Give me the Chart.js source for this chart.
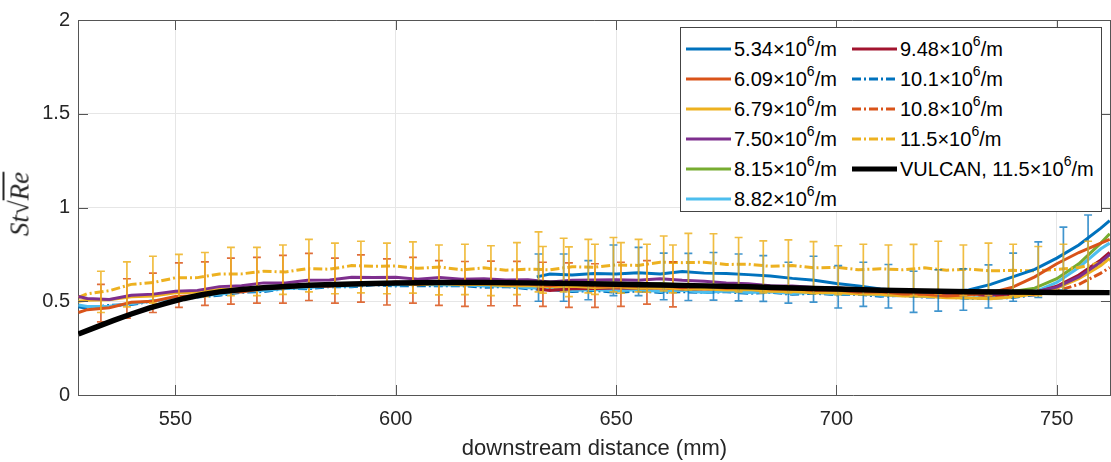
<!DOCTYPE html>
<html>
<head>
<meta charset="utf-8">
<script src="https://cdn.jsdelivr.net/npm/chart.js@4.4.0/dist/chart.umd.min.js"></script>
<style>
body { margin: 0; background: #fff; }
#wrap { position: relative; width: 1111px; height: 462px; }
#legend { position: absolute; left: 680px; top: 27px; width: 422px; height: 185px; box-sizing: border-box;
  border: 1px solid #444; background: #fff; font-family: "Liberation Sans", Arial, sans-serif; font-size: 20px; color: #000; }
.item { position: absolute; height: 24px; line-height: 24px; white-space: nowrap; }
.item svg { position: absolute; left: 0; top: 9px; }
.item span.t { position: absolute; left: 48px; top: 0; }
.item sup { font-size: 14px; position: relative; top: -3px; vertical-align: top; line-height: 14px; }
#ytitle { position: absolute; left: 20px; top: 204px; transform: translate(-50%, -50%) rotate(-90deg);
  font-family: "Liberation Serif", serif; font-style: italic; font-size: 27px; color: #262626; white-space: nowrap; }
#ytitle .ov { text-decoration: overline; }
</style>
</head>
<body>
<div id="wrap">
  <canvas id="chart" width="1111" height="462"></canvas>
  <div id="ytitle">St√<span class="ov">Re</span></div>
  <div id="legend"></div>
</div>
<script>
// GRID OF POSITIONS (mm)
const x_full = [528,530,535,540,545,550,555,560,565,570,
  575,580,585,590,595,600,605,610,615,620,
  625,630,635,640,645,650,655,660,665,670,
  675,680,685,690,695,700,705,710,715,720,
  725,730,735,740,745,750,755,760,762];
const x_right = [632,635,640,645,650,655,660,665,670,675,
  680,685,690,695,700,705,710,715,720,725,
  730,735,740,745,750,755,760,762];
const x_vulcan = [528,532,536,540,544,548,552,556,560,565,570,575,580,590,600,610,620,630,640,650,660,670,680,690,700,710,720,730,740,750,762];

// SERIES VALUES
const st_534 = [0.63,0.645,0.64,0.648,0.645,0.652,0.645,0.658,0.65,0.648,
  0.642,0.635,0.622,0.612,0.595,0.582,0.565,0.558,0.55,0.554,
  0.56,0.59,0.63,0.67,0.73,0.8,0.89,0.93];
const st_609 = [0.44,0.455,0.465,0.495,0.5,0.525,0.53,0.552,0.55,0.568,
  0.572,0.583,0.58,0.593,0.59,0.602,0.592,0.6,0.593,0.602,
  0.592,0.592,0.583,0.592,0.582,0.583,0.58,0.584,0.572,0.58,
  0.57,0.576,0.566,0.567,0.558,0.56,0.548,0.55,0.538,0.537,
  0.528,0.535,0.545,0.575,0.63,0.7,0.76,0.81,0.83];
const st_679 = [0.5,0.505,0.508,0.524,0.528,0.545,0.548,0.563,0.567,0.578,
  0.578,0.588,0.587,0.593,0.59,0.597,0.588,0.594,0.588,0.59,
  0.583,0.584,0.578,0.58,0.573,0.577,0.57,0.572,0.566,0.567,
  0.56,0.562,0.553,0.552,0.546,0.547,0.538,0.537,0.528,0.527,
  0.518,0.517,0.513,0.522,0.54,0.57,0.62,0.69,0.73];
const st_750 = [0.525,0.515,0.51,0.532,0.538,0.553,0.558,0.578,0.583,0.598,
  0.598,0.612,0.613,0.628,0.627,0.628,0.618,0.627,0.618,0.62,
  0.613,0.614,0.603,0.612,0.613,0.615,0.612,0.62,0.612,0.607,
  0.598,0.594,0.583,0.582,0.573,0.572,0.563,0.562,0.553,0.552,
  0.543,0.542,0.538,0.547,0.55,0.575,0.63,0.71,0.75];
const st_815 = [0.6,0.594,0.602,0.596,0.597,0.588,0.594,0.586,0.587,0.58,
  0.582,0.576,0.577,0.568,0.57,0.563,0.562,0.556,0.557,0.548,
  0.55,0.546,0.552,0.57,0.62,0.7,0.81,0.86];
const st_882 = [0.48,0.472,0.473,0.487,0.503,0.512,0.528,0.537,0.553,0.557,
  0.568,0.572,0.583,0.582,0.593,0.587,0.591,0.587,0.588,0.582,
  0.583,0.572,0.568,0.557,0.563,0.555,0.563,0.552,0.558,0.547,
  0.555,0.547,0.551,0.542,0.548,0.537,0.543,0.532,0.533,0.525,
  0.528,0.517,0.522,0.53,0.55,0.6,0.68,0.78,0.81];
const st_948 = [0.565,0.558,0.567,0.568,0.57,0.57,0.572,0.566,0.567,0.564,
  0.564,0.558,0.56,0.553,0.554,0.548,0.55,0.543,0.544,0.538,
  0.54,0.534,0.538,0.545,0.58,0.64,0.72,0.76];
const st_101 = [0.47,0.462,0.478,0.482,0.503,0.507,0.523,0.532,0.548,0.552,
  0.568,0.567,0.578,0.577,0.588,0.582,0.583,0.582,0.583,0.575,
  0.578,0.567,0.563,0.552,0.558,0.547,0.555,0.547,0.551,0.547,
  0.551,0.542,0.548,0.537,0.543,0.535,0.538,0.527,0.531,0.522,
  0.523,0.515,0.517,0.52,0.535,0.57,0.63,0.71,0.75];
const st_108 = [0.58,0.573,0.58,0.573,0.574,0.573,0.572,0.57,0.57,0.563,
  0.567,0.558,0.56,0.553,0.554,0.546,0.547,0.54,0.542,0.534,
  0.536,0.53,0.534,0.535,0.555,0.59,0.65,0.68];
const st_115 = [0.52,0.54,0.556,0.59,0.6,0.625,0.626,0.645,0.646,0.66,
  0.656,0.674,0.671,0.69,0.686,0.688,0.676,0.682,0.668,0.678,
  0.666,0.671,0.668,0.684,0.681,0.694,0.691,0.708,0.706,0.708,
  0.696,0.698,0.686,0.691,0.678,0.681,0.668,0.673,0.668,0.678,
  0.666,0.671,0.662,0.665,0.662,0.67,0.68,0.705,0.72];
const st_vulcan = [0.325,0.362,0.398,0.432,0.463,0.49,0.515,0.535,0.55,0.563,0.572,0.579,0.585,0.592,0.597,0.6,0.6,0.598,0.595,0.591,0.587,0.582,0.577,0.571,0.565,0.559,0.555,0.551,0.549,0.547,0.546];

// ERROR BARS
const err_left_x = [533.1,539.0,544.9,550.8,556.7,562.6,568.5,574.4,580.3,586.2,592.1,598.0,603.9,609.8,615.7,621.6,627.5,633.4,639.3,645.2,651.1,657.0,662.9];
const err_left_yellow_hi = [0.66,0.71,0.74,0.75,0.76,0.787,0.787,0.80,0.83,0.81,0.82,0.81,0.817,0.80,0.804,0.796,0.813,0.792,0.79,0.804,0.813,0.804,0.80];
const err_left_yellow_lo = [0.44,0.47,0.49,0.51,0.525,0.53,0.53,0.537,0.55,0.54,0.545,0.54,0.543,0.534,0.535,0.53,0.535,0.543,0.525,0.537,0.543,0.548,0.545];
const err_left_orange_hi = [0.59,0.62,0.65,0.705,0.71,0.73,0.734,0.745,0.755,0.73,0.747,0.726,0.734,0.717,0.712,0.714,0.713,0.708,0.705,0.70,0.708,0.717,0.71];
const err_left_orange_lo = [0.39,0.41,0.44,0.467,0.478,0.485,0.49,0.49,0.504,0.49,0.495,0.48,0.49,0.478,0.473,0.476,0.476,0.473,0.467,0.467,0.473,0.485,0.47];
const err_right_x = [632.4,638.1,643.7,649.4,655.1,660.8,666.4,672.1,677.8,683.4,689.1,694.8,700.4,706.1,711.8,717.5,723.1,728.8,734.5,740.1,745.8,751.5,757.1];
const err_right_blue_hi = [0.752,0.752,0.717,0.80,0.787,0.757,0.755,0.76,0.752,0.743,0.708,0.74,0.69,0.708,0.696,0.66,0.668,0.673,0.694,0.757,0.817,0.895,0.96];
const err_right_blue_lo = [0.50,0.50,0.508,0.53,0.53,0.508,0.504,0.506,0.502,0.499,0.49,0.495,0.464,0.473,0.464,0.441,0.447,0.452,0.464,0.50,0.52,0.56,0.55];
const err_right_yellow_hi = [0.87,0.836,0.83,0.84,0.83,0.848,0.862,0.86,0.84,0.822,0.827,0.818,0.796,0.804,0.80,0.803,0.82,0.80,0.81,0.804,0.792,0.804,0.82];
const err_right_yellow_lo = [0.55,0.55,0.545,0.55,0.55,0.555,0.56,0.56,0.55,0.545,0.545,0.54,0.535,0.535,0.53,0.53,0.54,0.53,0.53,0.53,0.53,0.54,0.55];

// TICKS / LABELS
const legend_labels = ['5.34','6.09','6.79','7.50','8.15','8.82','9.48','10.1','10.8','11.5'];
const x_tick_step = 50;
const y_tick_step = 0.5;

const BLUE = '#0072BD', ORANGE = '#D95319', YELLOW = '#EDB120', PURPLE = '#7E2F8E',
  GREEN = '#77AC30', SKY = '#4DBEEE', RED = '#A2142F';
const DASHDOT = [9, 3, 2, 3];

function pairs(xs, ys){
  return xs.map((x, i) => ({x: x, y: ys[i]}));
}

function buildBars(xs, lo, hi, cw){
  let pts = [];
  xs.forEach((x, i) => {
    pts.push({x: x, y: lo[i]}, {x: x, y: hi[i]}, {x: x, y: null});
    pts.push({x: x - cw, y: hi[i]}, {x: x + cw, y: hi[i]}, {x: x, y: null});
    pts.push({x: x - cw, y: lo[i]}, {x: x + cw, y: lo[i]}, {x: x, y: null});
  });
  return pts;
}

function lineSet(label, xs, ys, color, dashed, order){
  return {
    label: label,
    data: pairs(xs, ys),
    borderColor: color,
    backgroundColor: color,
    borderWidth: 3,
    borderDash: dashed ? DASHDOT : [],
    fill: false,
    order: order
  };
}

function barSet(xs, lo, hi, color){
  return {
    label: 'err',
    data: buildBars(xs, lo, hi, 0.9),
    borderColor: color,
    borderWidth: 1.7,
    fill: false,
    spanGaps: false,
    order: 2
  };
}

const datasets = [
  { label: 'VULCAN', data: pairs(x_vulcan, st_vulcan), borderColor: '#000', borderWidth: 5.5, fill: false, order: 0 },
  barSet(err_left_x, err_left_yellow_lo, err_left_yellow_hi, 'rgba(237,177,32,0.85)'),
  barSet(err_left_x, err_left_orange_lo, err_left_orange_hi, 'rgba(217,83,25,0.85)'),
  barSet(err_right_x, err_right_yellow_lo, err_right_yellow_hi, 'rgba(237,177,32,0.85)'),
  barSet(err_right_x, err_right_blue_lo, err_right_blue_hi, 'rgba(0,114,189,0.75)'),
  lineSet(legend_labels[0], x_right, st_534, BLUE, false, 3),
  lineSet(legend_labels[1], x_full, st_609, ORANGE, false, 4),
  lineSet(legend_labels[2], x_full, st_679, YELLOW, false, 5),
  lineSet(legend_labels[3], x_full, st_750, PURPLE, false, 4),
  lineSet(legend_labels[4], x_right, st_815, GREEN, false, 5),
  lineSet(legend_labels[5], x_full, st_882, SKY, false, 6),
  lineSet(legend_labels[6], x_right, st_948, RED, false, 5),
  lineSet(legend_labels[7], x_full, st_101, BLUE, true, 6),
  lineSet(legend_labels[8], x_right, st_108, ORANGE, true, 5),
  lineSet(legend_labels[9], x_full, st_115, YELLOW, true, 4)
];

// BOX AND INWARD TICKS
const boxPlugin = {
  id: 'box',
  afterDraw(chart){
    const c = chart.ctx, a = chart.chartArea;
    const xs = chart.scales.x, ys = chart.scales.y;
    c.save();
    c.strokeStyle = '#555';
    c.lineWidth = 1;
    c.beginPath();
    c.moveTo(a.left, a.top + 0.5); c.lineTo(a.right - 0.5, a.top + 0.5); c.lineTo(a.right - 0.5, a.bottom);
    xs.ticks.forEach(t => {
      const px = Math.round(xs.getPixelForValue(t.value)) + 0.5;
      c.moveTo(px, a.bottom); c.lineTo(px, a.bottom - 10);
      c.moveTo(px, a.top); c.lineTo(px, a.top + 10);
    });
    ys.ticks.forEach(t => {
      const py = Math.round(ys.getPixelForValue(t.value)) + 0.5;
      c.moveTo(a.left, py); c.lineTo(a.left + 10, py);
      c.moveTo(a.right, py); c.lineTo(a.right - 10, py);
    });
    c.stroke();
    c.restore();
  }
};

const FONT = '"Liberation Sans", Arial, sans-serif';
const ctx = document.getElementById('chart').getContext('2d');
const my_chart = new Chart(ctx, {
  type: 'line',
  data: { datasets: datasets },
  options: {
    responsive: false,
    animation: false,
    devicePixelRatio: 1,
    layout: { padding: { top: 13, right: 0, left: 0, bottom: 0 } },
    elements: { point: { radius: 0 }, line: { tension: 0 } },
    plugins: { legend: { display: false }, tooltip: { enabled: false } },
    scales: {
      x: {
        type: 'linear', min: 527.9, max: 762.3,
        afterFit: s => { s.height = 67; },
        grid: { color: '#e6e6e6', drawTicks: false },
        border: { color: '#555' },
        ticks: { stepSize: x_tick_step, includeBounds: false, padding: 12, color: '#262626', font: { family: FONT, size: 20 } },
        title: { display: true, text: 'downstream distance (mm)', color: '#262626', padding: 0, font: { family: FONT, size: 22 } }
      },
      y: {
        min: 0, max: 2,
        afterFit: s => { s.width = 78; },
        grid: { color: '#e6e6e6', drawTicks: false },
        border: { color: '#555' },
        ticks: { stepSize: y_tick_step, padding: 8, color: '#262626', font: { family: FONT, size: 20 },
          callback: v => String(v) }
      }
    }
  },
  plugins: [boxPlugin]
});

// LEGEND (two columns, inside the axes)
const legend_el = document.getElementById('legend');
const legend_items = [
  { col: 0, row: 0, i: 5 }, { col: 0, row: 1, i: 6 }, { col: 0, row: 2, i: 7 }, { col: 0, row: 3, i: 8 },
  { col: 0, row: 4, i: 9 }, { col: 0, row: 5, i: 10 },
  { col: 1, row: 0, i: 11 }, { col: 1, row: 1, i: 12 }, { col: 1, row: 2, i: 13 }, { col: 1, row: 3, i: 14 },
  { col: 1, row: 4, i: 0 }
];
legend_items.forEach(it => {
  const ds = datasets[it.i];
  const div = document.createElement('div');
  div.className = 'item';
  div.style.left = (it.col ? 171 : 5) + 'px';
  div.style.top = (8.5 + 30 * it.row) + 'px';
  const w = ds.borderWidth > 3 ? 5 : 3;
  const dash = ds.borderDash && ds.borderDash.length ? 'stroke-dasharray="9 3 2 3"' : '';
  const text = it.i === 0 ? 'VULCAN, 11.5×10<sup>6</sup>/m' : ds.label + '×10<sup>6</sup>/m';
  div.innerHTML = '<svg width="45" height="6"><line x1="0" y1="3" x2="45" y2="3" stroke="' + ds.borderColor +
    '" stroke-width="' + w + '" ' + dash + '/></svg><span class="t">' + text + '</span>';
  legend_el.appendChild(div);
});
</script>
</body>
</html>
